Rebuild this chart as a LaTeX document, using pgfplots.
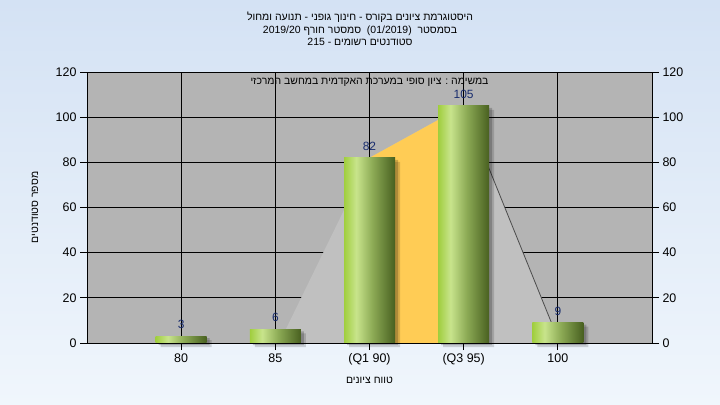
\documentclass[border=0pt]{standalone}
\usepackage{fontspec}
\setmainfont{Liberation Sans}
\newfontfamily\heb[Script=Hebrew]{Liberation Sans}
\TeXXeTstate=1
\usepackage{pgfplots}
\pgfplotsset{compat=1.18}

\definecolor{bgtop}{RGB}{212,226,244}
\definecolor{bgbot}{RGB}{240,246,252}
\definecolor{plotgrey}{RGB}{180,180,180}
\definecolor{polygrey}{RGB}{192,192,192}
\definecolor{qorange}{RGB}{255,204,85}
\definecolor{vallbl}{RGB}{25,45,110}
\definecolor{barA}{RGB}{160,206,62}
\definecolor{barB}{RGB}{200,228,140}
\definecolor{barC}{RGB}{140,170,85}
\definecolor{barD}{RGB}{72,96,32}
\pgfdeclarehorizontalshading{bargrad}{100bp}{color(0bp)=(barA); color(25bp)=(barA); color(37bp)=(barB); color(53bp)=(barC); color(75bp)=(barD); color(100bp)=(barD)}

\pgfplotsset{
  gbar/.style={ybar, bar width=51bp, draw=none, shade, shading=bargrad,
    nodes near coords,
    every node near coord/.append style={font=\fontsize{12}{14}\selectfont, text=vallbl, yshift=4bp}},
  sbar/.style={ybar, bar width=51bp, fill=black, draw=none},
}

\begin{document}
\begin{tikzpicture}
\useasboundingbox (0,0) rectangle (720bp,405bp);
\shade[top color=bgtop, bottom color=bgbot] (0,0) rectangle (720bp,405bp);

\node[anchor=base, font=\fontsize{10.5}{12}\selectfont] at (360bp,384bp)
  {\heb\beginR היסטוגרמת ציונים בקורס - חינוך גופני - תנועה ומחול\endR};
\node[anchor=base, font=\fontsize{10.5}{12}\selectfont] at (360bp,371bp)
  {\heb\beginR בסמסטר \ \beginL(01/2019)\endL{} \ סמסטר חורף \beginL 2019/20\endL{}\endR};
\node[anchor=base, font=\fontsize{10.5}{12}\selectfont] at (360bp,359bp)
  {\heb\beginR סטודנטים רשומים - \beginL 215\endL{}\endR};

\begin{axis}[
  at={(87bp,62bp)}, anchor=south west,
  scale only axis, width=565bp, height=271bp,
  xmin=-1, xmax=5, ymin=0, ymax=120,
  xtick={0,1,2,3,4},
  xticklabels={80,85,(Q1 90),(Q3 95),100},
  ytick={0,20,...,120},
  xtick pos=bottom, ytick pos=left,
  tick align=outside, major tick length=7bp,
  grid=major, grid style={black, line width=0.8bp},
  axis line style={black, line width=0.8bp},
  tick style={black, line width=0.8bp},
  axis background/.style={fill=plotgrey},
  /pgf/number format/assume math mode=true,
  tick label style={font=\fontsize{12.5}{14}\selectfont},
  xlabel={\heb\beginR טווח ציונים\endR},
  ylabel={\heb\beginR מספר סטודנטים\endR},
  label style={font=\fontsize{10.5}{12}\selectfont},
  xlabel style={at={(axis description cs:0.5,-0.137)}, anchor=center},
  ylabel style={at={(axis description cs:-0.092,0.5)}, anchor=center},
  clip=false,
]
% distribution area behind the bars
\addplot[fill=polygrey, draw=none] coordinates {(1.04,0) (2,82) (3,105) (4,2) (4,0)} -- cycle;
\addplot[fill=qorange, draw=none] coordinates {(2,0) (2,82) (3,105) (3,0)} -- cycle;
\addplot[draw=black!70, line width=0.8bp] coordinates {(3,105) (4,2)};
% soft shadows
\addplot[sbar, bar shift=5bp, yshift=-4bp, fill opacity=0.15]
  coordinates {(0,3) (1,6) (2,82) (3,105) (4,9)};
\addplot[sbar, bar shift=3bp, yshift=-2bp, fill opacity=0.2]
  coordinates {(0,3) (1,6) (2,82) (3,105) (4,9)};
% bars
\addplot[gbar] coordinates {(0,3)};
\addplot[gbar] coordinates {(1,6)};
\addplot[gbar] coordinates {(2,82)};
\addplot[gbar] coordinates {(3,105)};
\addplot[gbar] coordinates {(4,9)};
\draw[black, line width=0.8bp] (rel axis cs:0,0) rectangle (rel axis cs:1,1);
\node[anchor=base, font=\fontsize{10.5}{12}\selectfont] at (rel axis cs:0.5,0.955)
  {\heb\beginR במשימה : ציון סופי במערכת האקדמית במחשב המרכזי\endR};
\end{axis}

\begin{axis}[
  at={(87bp,62bp)}, anchor=south west,
  scale only axis, width=565bp, height=271bp,
  xmin=-1, xmax=5, ymin=0, ymax=120,
  ytick={0,20,...,120},
  axis y line*=right, hide x axis,
  tick align=outside, major tick length=7bp,
  axis line style={black, line width=0.8bp},
  tick style={black, line width=0.8bp},
  /pgf/number format/assume math mode=true,
  tick label style={font=\fontsize{12.5}{14}\selectfont},
]
\addplot[draw=none] coordinates {(0,0)};
\end{axis}
\end{tikzpicture}
\end{document}
